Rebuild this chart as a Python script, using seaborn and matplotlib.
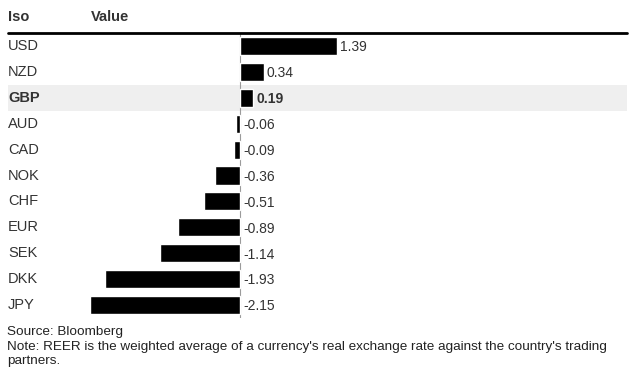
import pandas as pd
import matplotlib
matplotlib.use("Agg")
import matplotlib.pyplot as plt
import seaborn as sns

# ---- data ----
currencies = ["USD", "NZD", "GBP", "AUD", "CAD", "NOK", "CHF", "EUR", "SEK", "DKK", "JPY"]
values = [1.39, 0.34, 0.19, -0.06, -0.09, -0.36, -0.51, -0.89, -1.14, -1.93, -2.15]
highlight = "GBP"

df = pd.DataFrame({"Iso": currencies, "Value": values})

sns.set_style("white")
plt.rcParams["font.family"] = ["Liberation Sans", "DejaVu Sans"]

fig = plt.figure(figsize=(6.4, 3.8), dpi=100)
W, H = 640, 380
# axes spans x 8..627 px, y 33..318 px
ax = fig.add_axes([8 / W, (H - 318) / H, 619 / W, 285 / H])

sns.barplot(data=df, x="Value", y="Iso", orient="h", color="black",
            width=0.7, ax=ax, zorder=3)

ax.set_xlim(-232 / 70, 387 / 70)
ax.set_ylim(len(currencies) - 0.5, -0.5)

# highlighted row
hi = currencies.index(highlight)
ax.axhspan(hi - 0.5, hi + 0.5, color="#efefef", zorder=0, lw=0)

# zero line
ax.axvline(0, color="#9a9a9a", lw=0.8, zorder=2)

# header rule
ax.axhline(-0.5, color="black", lw=2, clip_on=False, zorder=4)

for s in ax.spines.values():
    s.set_visible(False)
ax.set_xticks([])
ax.set_yticks([])
ax.set_xlabel("")
ax.set_ylabel("")

trans = matplotlib.transforms.blended_transform_factory(ax.transAxes, ax.transData)
px = 1 / 70  # one pixel in data units
for i, (c, v) in enumerate(zip(currencies, values)):
    w = "bold" if c == highlight else "normal"
    ax.text(0, i, c, transform=trans, ha="left", va="center",
            fontsize=10.5, color="#333333", fontweight=w)
    xpos = max(v, 0) + 3 * px
    ax.text(xpos, i + 0.05, f"{v:.2f}", ha="left", va="center",
            fontsize=10, color="#333333", fontweight=w)

# header
fig.text(8 / W, 1 - 17 / H, "Iso", fontsize=10.5, fontweight="bold",
         color="#333333", va="center")
fig.text(91 / W, 1 - 17 / H, "Value", fontsize=10.5, fontweight="bold",
         color="#333333", va="center")

# footer
fig.text(7 / W, 1 - 332 / H, "Source: Bloomberg", fontsize=9.7, color="#222222", va="center")
fig.text(7 / W, 1 - 347 / H,
         "Note: REER is the weighted average of a currency's real exchange rate against the country's trading",
         fontsize=9.7, color="#222222", va="center")
fig.text(7 / W, 1 - 361 / H, "partners.", fontsize=9.7, color="#222222", va="center")

fig.savefig("out.png", dpi=100)
